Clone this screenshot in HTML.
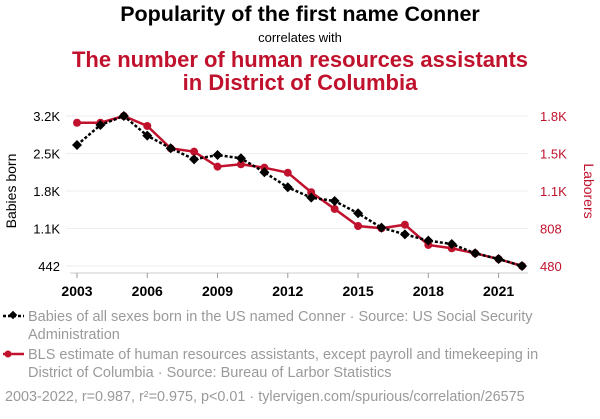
<!DOCTYPE html>
<html><head><meta charset="utf-8"><style>
body{margin:0;width:600px;height:414px;background:#fff;font-family:"Liberation Sans",Arial,sans-serif;overflow:hidden}
</style></head><body>
<svg width="600" height="414" xmlns="http://www.w3.org/2000/svg">
<text x="300" y="21" text-anchor="middle" font-size="21.5" font-weight="bold" fill="#000">Popularity of the first name Conner</text>
<text x="300" y="42" text-anchor="middle" font-size="13" fill="#000">correlates with</text>
<text x="300" y="67" text-anchor="middle" font-size="22" font-weight="bold" fill="#c0122d">The number of human resources assistants</text>
<text x="300" y="90" text-anchor="middle" font-size="22" font-weight="bold" fill="#c0122d">in District of Columbia</text>
<g id="grid"></g><g id="axes"></g><g id="marks"></g>
<text transform="translate(16,191) rotate(-90)" text-anchor="middle" font-size="14" fill="#000">Babies born</text>
<text transform="translate(584,191) rotate(90)" text-anchor="middle" font-size="14" fill="#c0122d">Laborers</text>
<g>
<line x1="3" y1="316" x2="24" y2="316" stroke="#000" stroke-width="2.5" stroke-dasharray="3,2"/>
<rect x="10" y="312" width="6" height="6" transform="rotate(45 13 315)" fill="#000"/>
<text x="28" y="321" font-size="14.5" fill="#9a9a9a">Babies of all sexes born in the US named Conner · Source: US Social Security</text>
<text x="28" y="339" font-size="14.5" fill="#9a9a9a">Administration</text></g>
<g>
<line x1="3" y1="354" x2="24" y2="354" stroke="#c0122d" stroke-width="2.5"/>
<circle cx="8" cy="354" r="3.5" fill="#c0122d"/>
<text x="28" y="359" font-size="14.5" fill="#9a9a9a">BLS estimate of human resources assistants, except payroll and timekeeping in</text>
<text x="28" y="377" font-size="14.5" fill="#9a9a9a">District of Columbia · Source: Bureau of Larbor Statistics</text></g>
<text x="5" y="401" font-size="14.4" fill="#9a9a9a">2003-2022, r=0.987, r²=0.975, p&lt;0.01 · tylervigen.com/spurious/correlation/26575</text>
</svg>
<script>
const years=[2003,2004,2005,2006,2007,2008,2009,2010,2011,2012,2013,2014,2015,2016,2017,2018,2019,2020,2021,2022];
const babies=[2668,3036,3202,2840,2608,2405,2484,2424,2166,1890,1699,1638,1412,1147,1025,908,847,676,571,442];
const laborers=[1733,1733,1792,1705,1509,1480,1349,1370,1340,1296,1125,979,830,810,841,664,635,591,541,480];
const leftTicks=[442,1132,1822,2512,3202];
const leftLabels=["442","1.1K","1.8K","2.5K","3.2K"];
const rightTicks=[480,808,1136,1464,1792];
const rightLabels=["480","808","1.1K","1.5K","1.8K"];
const xTicks=[2003,2006,2009,2012,2015,2018,2021];
const NS="http://www.w3.org/2000/svg";
const X=y=>77+(y-2003)*(522-77)/19;
const YL=v=>266-(v-442)/(3202-442)*150;
const YR=v=>266-(v-480)/(1792-480)*150;
function mk(p,t,a){const e=document.createElementNS(NS,t);for(const k in a)e.setAttribute(k,a[k]);p.appendChild(e);return e;}
const grid=document.getElementById('grid'),axes=document.getElementById('axes'),marks=document.getElementById('marks');
leftTicks.forEach((v,i)=>{
 const l=mk(grid,'line',{x1:66,x2:528,y1:YL(v),y2:YL(v),stroke:'#eee','stroke-width':1});
 
 
 const t=mk(axes,'text',{x:60,y:YL(v)+5,'text-anchor':'end','font-size':13,fill:'#000'});t.textContent=leftLabels[i];
 
 
});
rightTicks.forEach((v,i)=>{
 const t=mk(axes,'text',{x:540,y:YR(v)+5,'font-size':13,fill:'#c0122d'});t.textContent=rightLabels[i];
 
 
});
mk(axes,'line',{x1:70,x2:528,y1:273,y2:273,stroke:'#ccc'});
xTicks.forEach(y=>{
 mk(axes,'line',{x1:X(y),x2:X(y),y1:273,y2:278,stroke:'#999'});
 const t=mk(axes,'text',{x:X(y),y:296,'text-anchor':'middle','font-size':14,'font-weight':'bold',fill:'#000'});t.textContent=y;
 
 
});
const rl=mk(marks,'polyline',{points:years.map((y,i)=>X(y)+','+YR(laborers[i])).join(' '),fill:'none',stroke:'#c0122d','stroke-width':2.5});


years.forEach((y,i)=>{const c=mk(marks,'circle',{cx:X(y),cy:YR(laborers[i]),r:4,fill:'#c0122d'});
 
 });
const bl=mk(marks,'polyline',{points:years.map((y,i)=>X(y)+','+YL(babies[i])).join(' '),fill:'none',stroke:'#000','stroke-width':2.5,'stroke-dasharray':'3,2'});


years.forEach((y,i)=>{const cx=X(y),cy=YL(babies[i]);const d=mk(marks,'polygon',{points:`${cx},${cy-5} ${cx+5},${cy} ${cx},${cy+5} ${cx-5},${cy}`,fill:'#000'});
 
 });
</script>
</body></html>
